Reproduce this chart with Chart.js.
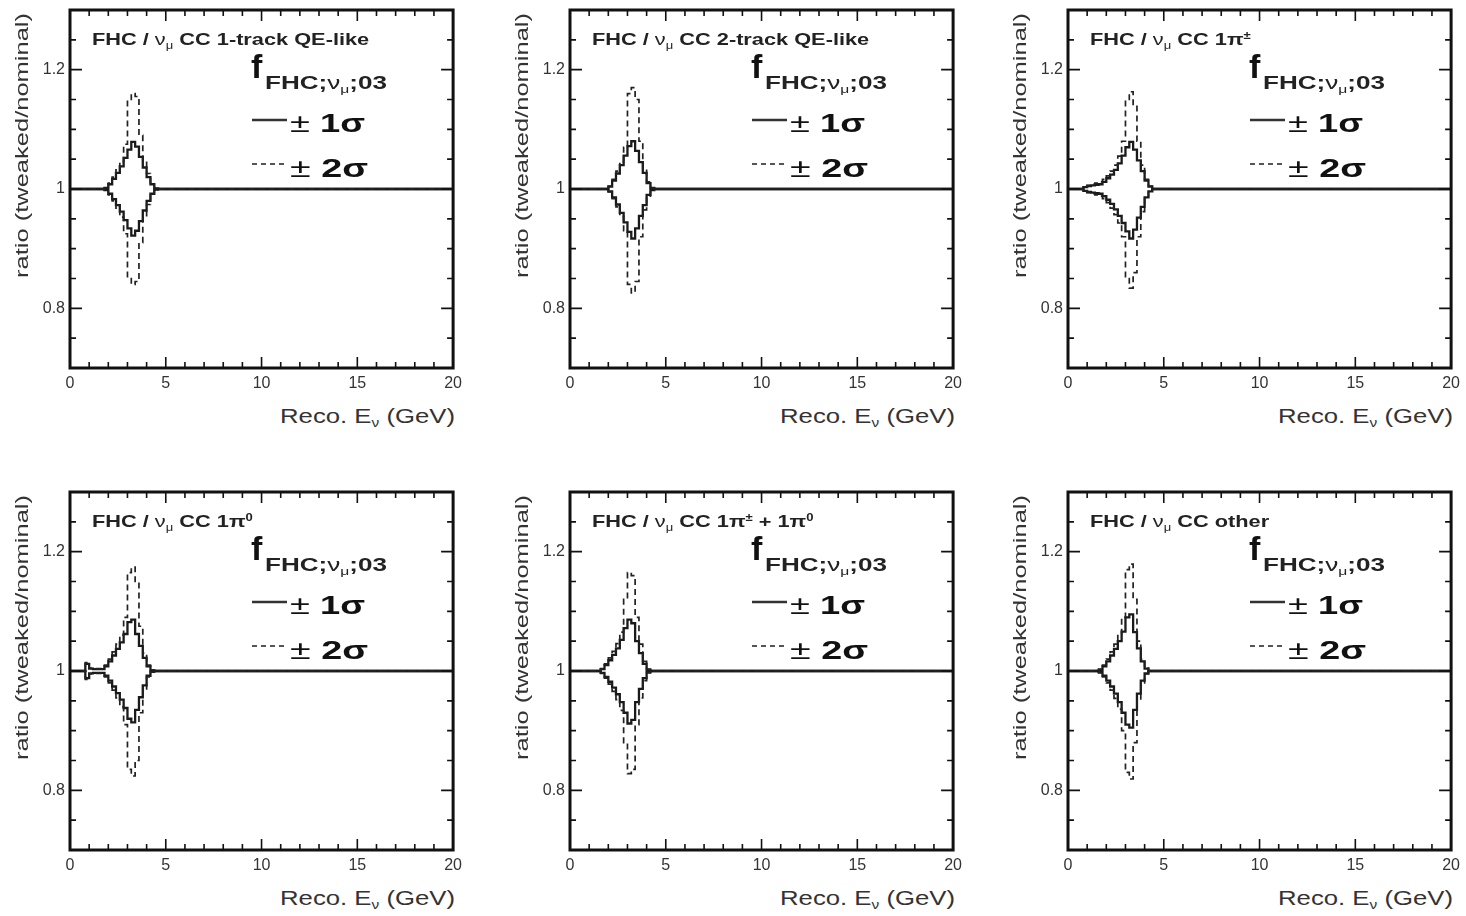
<!DOCTYPE html>
<html>
<head>
<meta charset="utf-8">
<script src="https://cdn.jsdelivr.net/npm/chart.js@4.4.0/dist/chart.umd.min.js"></script>
<style>
  body { margin: 0; background: #fff; }
  #page { position: relative; width: 1466px; height: 916px; overflow: hidden; font-family: 'Liberation Sans', Arial, sans-serif; }
  canvas { position: absolute; }
  .txt { position: absolute; white-space: nowrap; transform-origin: 0 0; color: #222; }
  .txt sub, .txt sup { font-size: 60%; vertical-align: baseline; position: relative; }
  .txt sub { top: 0.35em; }
  .txt sup { top: -0.55em; }
  .title { font-size: 17px; line-height: 17px; font-weight: bold; }
  .title .nu { font-weight: normal; }
  .fbig { font-size: 34px; line-height: 34px; font-weight: bold; color: #111; }
  .fsub { font-size: 19px; line-height: 19px; font-weight: bold; }
  .fsub .nu { font-weight: normal; }
  .sig { font-size: 26px; line-height: 26px; color: #111; }
  .sig b { font-weight: bold; }
  .axt { font-size: 20px; line-height: 20px; color: #333; }
  .ayt { font-size: 18px; line-height: 20px; color: #333; }
</style>
</head>
<body>
<div id="page"></div>
<script>
// bin edges in GeV (histogram, one value per bin)
const binEdges = [0, 0.6, 0.8, 1.0, 1.2, 1.4, 1.6, 1.8, 2.0, 2.2, 2.4, 2.6, 2.8, 3.0, 3.2, 3.4, 3.6, 3.8, 4.0, 4.2, 4.4, 4.6, 20];

const xTicks = [0, 5, 10, 15, 20];
const yTicks = [0.8, 1, 1.2];
const yTickLabels = ['0.8', '1', '1.2'];

const panelTitles = [
  'FHC / <span class="nu">ν<sub>μ</sub></span> CC 1-track QE-like',
  'FHC / <span class="nu">ν<sub>μ</sub></span> CC 2-track QE-like',
  'FHC / <span class="nu">ν<sub>μ</sub></span> CC 1π<sup>±</sup>',
  'FHC / <span class="nu">ν<sub>μ</sub></span> CC 1π<sup>0</sup>',
  'FHC / <span class="nu">ν<sub>μ</sub></span> CC 1π<sup>±</sup> + 1π<sup>0</sup>',
  'FHC / <span class="nu">ν<sub>μ</sub></span> CC other'
];

// ratio tweaked/nominal, one row per panel
const plus1Sigma = [
  [1, 1, 1, 1, 1, 1, 1, 1.002, 1.008, 1.017, 1.027, 1.038, 1.052, 1.066, 1.079, 1.071, 1.054, 1.036, 1.020, 1.008, 1.001, 1],
  [1, 1, 1, 1, 1, 1, 1, 1, 1.004, 1.014, 1.026, 1.040, 1.056, 1.072, 1.080, 1.064, 1.045, 1.027, 1.010, 1.002, 1, 1],
  [1, 1, 1.003, 1.005, 1.006, 1.007, 1.008, 1.012, 1.018, 1.024, 1.032, 1.043, 1.056, 1.070, 1.079, 1.066, 1.048, 1.030, 1.014, 1.004, 1, 1],
  [1, 1, 1.012, 1.004, 1.003, 1.003, 1.003, 1.008, 1.016, 1.026, 1.037, 1.048, 1.062, 1.082, 1.086, 1.062, 1.042, 1.022, 1.008, 1.001, 1, 1],
  [1, 1, 1, 1, 1, 1, 1.003, 1.010, 1.018, 1.027, 1.038, 1.052, 1.072, 1.086, 1.080, 1.050, 1.030, 1.012, 1.002, 1, 1, 1],
  [1, 1, 1, 1, 1, 1, 1.002, 1.008, 1.016, 1.026, 1.037, 1.050, 1.066, 1.090, 1.095, 1.065, 1.038, 1.016, 1.004, 1, 1, 1]
];
const minus1Sigma = [
  [1, 1, 1, 1, 1, 1, 1, 0.998, 0.992, 0.983, 0.973, 0.962, 0.948, 0.934, 0.922, 0.930, 0.946, 0.964, 0.980, 0.992, 0.999, 1],
  [1, 1, 1, 1, 1, 1, 1, 1, 0.996, 0.986, 0.974, 0.960, 0.944, 0.928, 0.917, 0.934, 0.955, 0.973, 0.990, 0.998, 1, 1],
  [1, 1, 0.997, 0.995, 0.994, 0.993, 0.992, 0.988, 0.982, 0.975, 0.966, 0.955, 0.943, 0.929, 0.917, 0.932, 0.952, 0.970, 0.986, 0.996, 1, 1],
  [1, 1, 0.988, 0.996, 0.997, 0.997, 0.997, 0.992, 0.984, 0.974, 0.963, 0.952, 0.938, 0.920, 0.914, 0.935, 0.956, 0.976, 0.992, 0.999, 1, 1],
  [1, 1, 1, 1, 1, 1, 0.997, 0.990, 0.982, 0.972, 0.961, 0.948, 0.930, 0.912, 0.918, 0.948, 0.970, 0.988, 0.998, 1, 1, 1],
  [1, 1, 1, 1, 1, 1, 0.998, 0.992, 0.984, 0.974, 0.962, 0.948, 0.930, 0.910, 0.905, 0.935, 0.962, 0.984, 0.996, 1, 1, 1]
];
const plus2Sigma = [
  [1, 1, 1, 1, 1, 1, 1, 1.003, 1.010, 1.020, 1.032, 1.046, 1.075, 1.150, 1.160, 1.155, 1.090, 1.048, 1.026, 1.010, 1.002, 1],
  [1, 1, 1, 1, 1, 1, 1, 1, 1.005, 1.016, 1.030, 1.046, 1.070, 1.160, 1.170, 1.150, 1.080, 1.035, 1.012, 1.002, 1, 1],
  [1, 1, 1.004, 1.006, 1.008, 1.010, 1.012, 1.016, 1.022, 1.030, 1.040, 1.055, 1.080, 1.150, 1.163, 1.140, 1.080, 1.040, 1.016, 1.005, 1, 1],
  [1, 1, 1.014, 1.005, 1.004, 1.004, 1.004, 1.010, 1.020, 1.032, 1.045, 1.060, 1.090, 1.165, 1.174, 1.150, 1.075, 1.030, 1.010, 1.002, 1, 1],
  [1, 1, 1, 1, 1, 1, 1.004, 1.012, 1.022, 1.033, 1.046, 1.065, 1.120, 1.165, 1.160, 1.090, 1.045, 1.016, 1.003, 1, 1, 1],
  [1, 1, 1, 1, 1, 1, 1.003, 1.010, 1.020, 1.032, 1.045, 1.062, 1.090, 1.170, 1.179, 1.120, 1.050, 1.020, 1.005, 1, 1, 1]
];
const minus2Sigma = [
  [1, 1, 1, 1, 1, 1, 1, 0.997, 0.990, 0.980, 0.968, 0.953, 0.925, 0.850, 0.840, 0.845, 0.910, 0.952, 0.974, 0.990, 0.998, 1],
  [1, 1, 1, 1, 1, 1, 1, 1, 0.995, 0.984, 0.970, 0.954, 0.930, 0.840, 0.826, 0.845, 0.920, 0.965, 0.988, 0.998, 1, 1],
  [1, 1, 0.996, 0.994, 0.992, 0.990, 0.988, 0.984, 0.977, 0.968, 0.957, 0.943, 0.920, 0.850, 0.834, 0.860, 0.920, 0.962, 0.984, 0.995, 1, 1],
  [1, 1, 0.986, 0.995, 0.996, 0.996, 0.996, 0.990, 0.980, 0.968, 0.955, 0.940, 0.910, 0.835, 0.824, 0.850, 0.930, 0.970, 0.990, 0.998, 1, 1],
  [1, 1, 1, 1, 1, 1, 0.996, 0.988, 0.978, 0.966, 0.952, 0.934, 0.880, 0.828, 0.835, 0.910, 0.955, 0.984, 0.997, 1, 1, 1],
  [1, 1, 1, 1, 1, 1, 0.997, 0.990, 0.980, 0.968, 0.954, 0.936, 0.900, 0.830, 0.819, 0.880, 0.950, 0.980, 0.995, 1, 1, 1]
];

const plotLeft = [70, 570, 1068];
const plotTop = [10, 492];
const plotW = 386, plotH = 358;
const padL = 60, padT = 18, padR = 12, padB = 32;

const page = document.getElementById('page');

// histogram -> stepped points (value holds from its low edge to the next edge)
function toSteps(vals) {
  const pts = vals.map((v, i) => ({ x: binEdges[i], y: v }));
  pts.push({ x: binEdges[binEdges.length - 1], y: vals[vals.length - 1] });
  return pts;
}

function histLine(vals, dashed) {
  return {
    data: toSteps(vals),
    stepped: 'before',
    borderColor: dashed ? '#222' : '#1a1a1a',
    borderWidth: dashed ? 1.7 : 2.3,
    borderDash: dashed ? [6, 4] : [],
    pointRadius: 0,
    fill: false
  };
}

// ROOT style frame, inward ticks on all sides, legend samples
const frameTicks = {
  id: 'frameTicks',
  afterDatasetsDraw(chart) {
    const { ctx, chartArea: a, scales: { x, y } } = chart;
    ctx.save();
    ctx.strokeStyle = '#111';
    ctx.lineWidth = 1.6;
    ctx.beginPath();
    for (let v = 0; v <= 20; v += 1) {
      const px = x.getPixelForValue(v);
      const len = v % 5 === 0 ? 11 : 6;
      ctx.moveTo(px, a.bottom); ctx.lineTo(px, a.bottom - len);
      ctx.moveTo(px, a.top); ctx.lineTo(px, a.top + len);
    }
    for (let i = 0; i <= 12; i++) {
      const py = y.getPixelForValue(0.7 + i * 0.05);
      const len = i % 4 === 2 ? 12 : 6;
      ctx.moveTo(a.left, py); ctx.lineTo(a.left + len, py);
      ctx.moveTo(a.right, py); ctx.lineTo(a.right - len, py);
    }
    ctx.stroke();
    ctx.lineWidth = 3;
    ctx.strokeRect(a.left, a.top, a.width, a.height);

    // legend line samples
    ctx.lineWidth = 2.4;
    ctx.strokeStyle = '#333';
    ctx.beginPath();
    ctx.moveTo(a.left + 182, a.top + 110); ctx.lineTo(a.left + 217, a.top + 110);
    ctx.stroke();
    ctx.lineWidth = 1.8;
    ctx.strokeStyle = '#555';
    ctx.setLineDash([5, 4]);
    ctx.beginPath();
    ctx.moveTo(a.left + 182, a.top + 154); ctx.lineTo(a.left + 217, a.top + 154);
    ctx.stroke();
    ctx.restore();
  }
};

function addText(html, cls, x, y) {
  const el = document.createElement('div');
  el.className = 'txt ' + cls;
  el.innerHTML = html;
  el.style.left = x + 'px';
  el.style.top = y + 'px';
  page.appendChild(el);
  return el;
}
function stretch(el, w) {
  const nat = el.getBoundingClientRect().width;
  el.style.transform = `scaleX(${w / nat})`;
}

for (let p = 0; p < 6; p++) {
  const L = plotLeft[p % 3], T = plotTop[Math.floor(p / 3)];
  const cv = document.createElement('canvas');
  cv.width = plotW + padL + padR;
  cv.height = plotH + padT + padB;
  cv.style.left = (L - padL) + 'px';
  cv.style.top = (T - padT) + 'px';
  page.appendChild(cv);

  new Chart(cv, {
    type: 'line',
    data: {
      datasets: [
        histLine(plus2Sigma[p], true),
        histLine(minus2Sigma[p], true),
        histLine(plus1Sigma[p], false),
        histLine(minus1Sigma[p], false)
      ]
    },
    options: {
      responsive: false,
      animation: false,
      layout: { padding: { top: padT, right: padR, left: 0, bottom: 0 } },
      plugins: { legend: { display: false }, tooltip: { enabled: false } },
      scales: {
        x: {
          type: 'linear', min: 0, max: 20,
          afterBuildTicks: s => { s.ticks = xTicks.map(v => ({ value: v })); },
          afterFit: s => { s.height = padB; },
          grid: { display: false, drawTicks: false },
          border: { display: false },
          ticks: { padding: 6, color: '#333', font: { family: 'Liberation Sans', size: 16 }, maxRotation: 0 }
        },
        y: {
          type: 'linear', min: 0.7, max: 1.3,
          afterBuildTicks: s => { s.ticks = yTicks.map(v => ({ value: v })); },
          afterFit: s => { s.width = padL; },
          grid: { display: false, drawTicks: false },
          border: { display: false },
          ticks: {
            padding: 5, color: '#333', font: { family: 'Liberation Sans', size: 16 },
            callback: v => yTickLabels[yTicks.indexOf(v)]
          }
        }
      }
    },
    plugins: [frameTicks]
  });

  // texts
  const t = addText(panelTitles[p], 'title', L + 22, T + 21);
  stretch(t, t.getBoundingClientRect().width * 1.28);
  addText('f', 'fbig', L + 181, T + 39);
  const fs = addText('FHC;<span class="nu">ν<sub>μ</sub></span>;03', 'fsub', L + 195, T + 63);
  stretch(fs, 122);
  const s1 = addText('± <b>1σ</b>', 'sig', L + 220, T + 100);
  stretch(s1, 75);
  const s2 = addText('± <b>2σ</b>', 'sig', L + 220, T + 145);
  stretch(s2, 78);

  const xt = addText('Reco. E<sub>ν</sub> (GeV)', 'axt', 0, T + 396);
  xt.style.left = (L + plotW - 1 - 175) + 'px';
  stretch(xt, 175);

  const yt = addText('ratio (tweaked/nominal)', 'ayt', L - 58, T + 268);
  const nat = yt.getBoundingClientRect().width;
  yt.style.transform = `rotate(-90deg) scaleX(${265 / nat})`;
}
</script>
</body>
</html>
